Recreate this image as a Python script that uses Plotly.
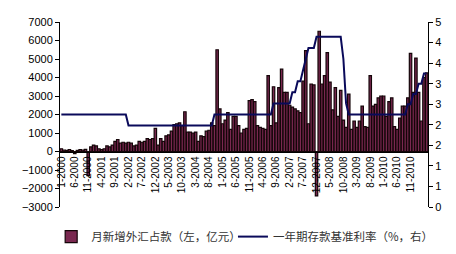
import plotly.graph_objects as go

# ---- data ----
years = list(range(2000, 2012))
months = [f"{m}-{y}" for y in years for m in range(1, 13)][:137]

fx_2000 = [150, 80, 60, 100, 50, -120, 60, 100, 80, 120, -1300, 250]
fx_2001 = [350, 300, 150, 100, 150, 300, 250, 350, 550, 650, 450, 500]
fx_2002 = [450, 500, 450, 300, 350, 550, 500, 550, 700, 650, 700, 1250]
fx_2003 = [350, 700, 550, 850, 900, 1100, 1450, 1500, 1550, 1400, 2150, 1050]
fx_2004 = [1050, 1000, 1050, 550, 850, 800, 1100, 1150, 1550, 1400, 5500, 2300]
fx_2005 = [1500, 1700, 2100, 1200, 1900, 1900, 1400, 1000, 1200, 1250, 2750, 2800]
fx_2006 = [2700, 1400, 1300, 1250, 1200, 4100, 1400, 3500, 1550, 3450, 4450, 3200]
fx_2007 = [3200, 2500, 2400, 2300, 2200, 2100, 3800, 5450, 1500, 3650, 3600, -2400]
fx_2008 = [6500, 3650, 4100, 5350, 3750, 2250, 3450, 1900, 3300, 1700, 1300, 3100]
fx_2009 = [1200, 1650, 1300, 1650, 2450, 1350, 1300, 4100, 2450, 2550, 2900, 3000]
fx_2010 = [3000, 1900, 2700, 2900, 1350, 1200, 1800, 2450, 2450, 2900, 5300, 3200]
fx_2011 = [5050, 3200, 1650, 4000, 4250]
fx_new = (fx_2000 + fx_2001 + fx_2002 + fx_2003 + fx_2004 + fx_2005 + fx_2006
          + fx_2007 + fx_2008 + fx_2009 + fx_2010 + fx_2011)

rate = [
    2.25, 2.25, 2.25, 2.25, 2.25, 2.25, 2.25, 2.25, 2.25, 2.25, 2.25, 2.25,
    2.25, 2.25, 2.25, 2.25, 2.25, 2.25, 2.25, 2.25, 2.25, 2.25, 2.25, 2.25,
    2.25, 1.98, 1.98, 1.98, 1.98, 1.98, 1.98, 1.98, 1.98, 1.98, 1.98, 1.98,
    1.98, 1.98, 1.98, 1.98, 1.98, 1.98, 1.98, 1.98, 1.98, 1.98, 1.98, 1.98,
    1.98, 1.98, 1.98, 1.98, 1.98, 1.98, 1.98, 1.98, 1.98, 2.25, 2.25, 2.25,
    2.25, 2.25, 2.25, 2.25, 2.25, 2.25, 2.25, 2.25, 2.25, 2.25, 2.25, 2.25,
    2.25, 2.25, 2.25, 2.25, 2.25, 2.25, 2.25, 2.52, 2.52, 2.52, 2.52, 2.52,
    2.52, 2.52, 2.79, 2.79, 3.06, 3.06, 3.33, 3.60, 3.87, 3.87, 3.87, 4.14,
    4.14, 4.14, 4.14, 4.14, 4.14, 4.14, 4.14, 4.14, 4.14, 3.60, 2.52, 2.25,
    2.25, 2.25, 2.25, 2.25, 2.25, 2.25, 2.25, 2.25, 2.25, 2.25, 2.25, 2.25,
    2.25, 2.25, 2.25, 2.25, 2.25, 2.25, 2.25, 2.25, 2.25, 2.50, 2.50, 2.75,
    2.75, 3.00, 3.00, 3.25, 3.25,
]

left_ticks = [-3000, -2000, -1000, 0, 1000, 2000, 3000, 4000, 5000, 6000, 7000]
right_tickvals = [0, 0.5, 1, 1.5, 2, 2.5, 3, 3.5, 4, 4.5]
right_ticktext = ["0", "1", "1", "2", "2", "3", "3", "4", "4", "5"]
label_months = months[0:131:5]

bar_name = "月新增外汇占款（左，亿元）"
line_name = "一年期存款基准利率（%，右）"

# ---- figure ----
tick_font = dict(family="Liberation Sans, Arial, sans-serif", size=11, color="#000000")
legend_font = dict(family="Noto Sans CJK SC, sans-serif", size=11.5, color="#333333")

fig = go.Figure()
fig.add_trace(go.Bar(
    x=months, y=fx_new, name=bar_name,
    marker=dict(color="#7a2850", line=dict(color="#140508", width=1.2)),
    yaxis="y", legend="legend",
))
fig.add_trace(go.Scatter(
    x=months, y=rate, name=line_name, mode="lines",
    line=dict(color="#0a0a5a", width=2),
    yaxis="y2", legend="legend2",
))

fig.update_layout(
    width=456, height=254,
    margin=dict(l=60, r=28, t=22, b=47, autoexpand=False),
    paper_bgcolor="white", plot_bgcolor="white",
    bargap=0.1,
    showlegend=True,
    legend=dict(
        orientation="h", x=-0.024, xanchor="left", y=-0.16, yanchor="middle",
        font=legend_font, itemwidth=30, bgcolor="rgba(0,0,0,0)",
    ),
    legend2=dict(
        orientation="h", x=0.470, xanchor="left", y=-0.16, yanchor="middle",
        font=legend_font, itemwidth=30, bgcolor="rgba(0,0,0,0)",
    ),
    xaxis=dict(
        type="category", range=[-0.5, 136.5],
        tickmode="array", tickvals=label_months, ticktext=label_months,
        tickangle=-90, tickfont=dict(family="Liberation Sans, Arial, sans-serif", size=10, color="#000"),
        showline=True, linecolor="#000", linewidth=1,
        ticks="", showgrid=False, zeroline=False,
        anchor="free", position=0.3, automargin=False,
    ),
    yaxis=dict(
        range=[-3000, 7000], tickvals=left_ticks,
        tickfont=tick_font, showline=True, linecolor="#000", linewidth=1,
        ticks="outside", ticklen=4, tickcolor="#000",
        showgrid=False, zeroline=False, automargin=False,
    ),
    yaxis2=dict(
        range=[0, 4.5], tickvals=right_tickvals, ticktext=right_ticktext,
        overlaying="y", side="right",
        tickfont=tick_font, showline=True, linecolor="#000", linewidth=1,
        ticks="outside", ticklen=4, tickcolor="#000",
        showgrid=False, zeroline=False, automargin=False,
    ),
)

fig.write_html("out.html")
